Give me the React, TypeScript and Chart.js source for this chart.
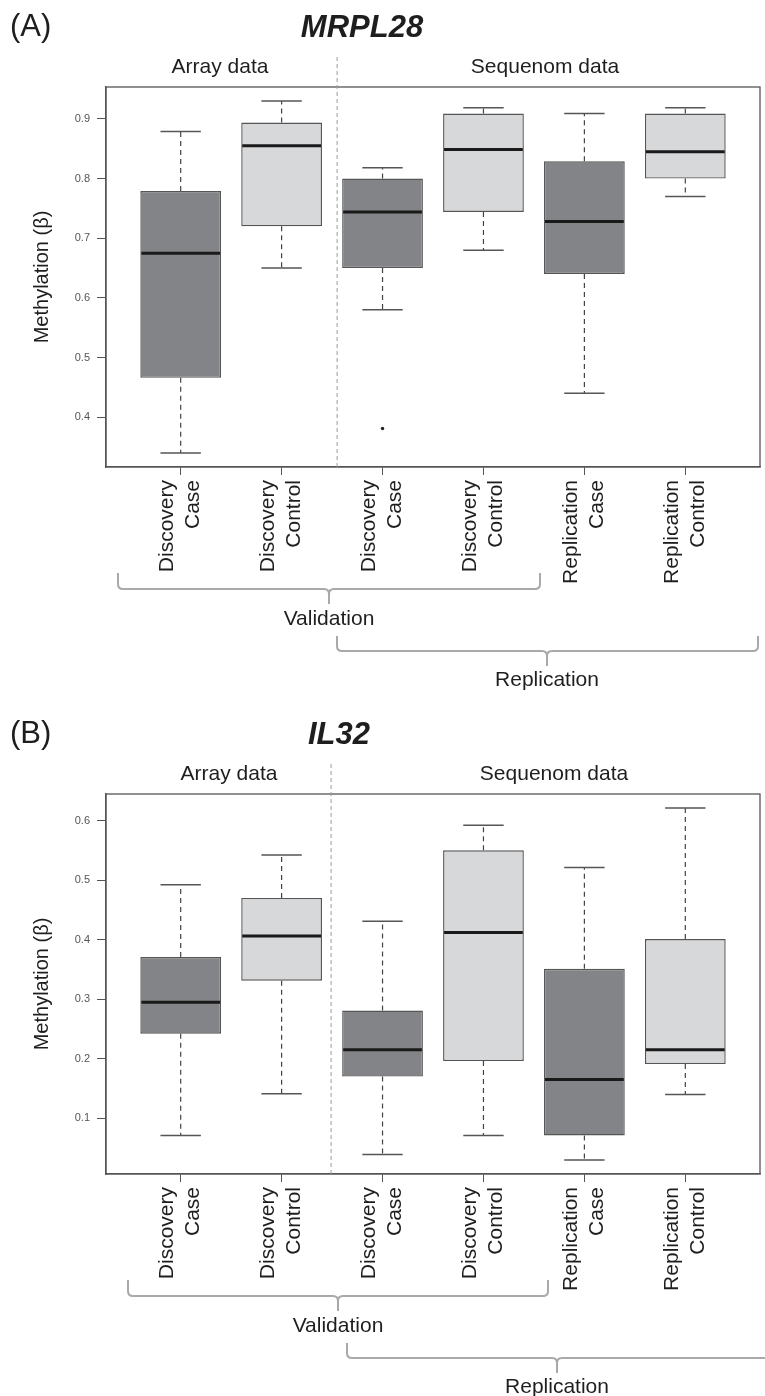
import React, { useEffect, useRef } from "react";
import { Chart, registerables } from "chart.js";

Chart.register(...registerables);

// ---------- data ----------
const categories: string[][] = [
  ["Discovery", "Case"],
  ["Discovery", "Control"],
  ["Discovery", "Case"],
  ["Discovery", "Control"],
  ["Replication", "Case"],
  ["Replication", "Control"],
];
const positions = [1, 2, 3, 4, 5, 6];

// MRPL28 (panel A)
const mrplMin = [0.34, 0.65, 0.58, 0.68, 0.44, 0.77];
const mrplQ1 = [0.466, 0.72, 0.65, 0.744, 0.64, 0.8];
const mrplMed = [0.675, 0.855, 0.744, 0.849, 0.728, 0.845];
const mrplQ3 = [0.779, 0.894, 0.8, 0.909, 0.829, 0.909];
const mrplMax = [0.879, 0.93, 0.818, 0.919, 0.909, 0.919];
const mrplOutlierX = [3];
const mrplOutlierY = [0.381];
const mrplYTicks = [0.4, 0.5, 0.6, 0.7, 0.8, 0.9];

// IL32 (panel B)
const ilMin = [0.071, 0.141, 0.039, 0.071, 0.03, 0.14];
const ilQ1 = [0.242, 0.331, 0.17, 0.196, 0.071, 0.191];
const ilMed = [0.295, 0.406, 0.215, 0.412, 0.165, 0.215];
const ilQ3 = [0.371, 0.47, 0.281, 0.55, 0.351, 0.401];
const ilMax = [0.492, 0.542, 0.431, 0.592, 0.521, 0.621];
const ilOutlierX: number[] = [];
const ilOutlierY: number[] = [];
const ilYTicks = [0.1, 0.2, 0.3, 0.4, 0.5, 0.6];

// ---------- styles ----------
const FONT = '"Liberation Sans", Arial, Helvetica, sans-serif';
const DARK = "#838487";
const LIGHT = "#d7d8da";
const AXIS = "#555555";
const TEXT = "#1e1e1e";
const BRACKET = "#a9a9a9";

interface Stats {
  min: number[];
  q1: number[];
  med: number[];
  q3: number[];
  max: number[];
}

interface PanelCfg {
  tag: string;
  title: string;
  stats: Stats;
  outX: number[];
  outY: number[];
  yTicks: number[];
  divider: number;
  titleX: number;
  arrayX: number;
  seqX: number;
  validation: [number, number, number];
  replication: [number, number, number];
  height: number;
}

const AREA_TOP = 87;
const AREA_BOTTOM = 467;
const AREA_RIGHT = 760;
const Y_AXIS_W = 106;

function drawBracket(ctx: CanvasRenderingContext2D, xL: number, xC: number, xR: number, yTop: number, yLine: number, yNotch: number) {
  const r = 5;
  ctx.beginPath();
  ctx.moveTo(xL, yTop);
  ctx.lineTo(xL, yLine - r);
  ctx.quadraticCurveTo(xL, yLine, xL + r, yLine);
  ctx.lineTo(xC - r, yLine);
  ctx.quadraticCurveTo(xC, yLine, xC, yLine + r);
  ctx.lineTo(xC, yNotch);
  ctx.moveTo(xR, yTop);
  ctx.lineTo(xR, yLine - r);
  ctx.quadraticCurveTo(xR, yLine, xR - r, yLine);
  ctx.lineTo(xC + r, yLine);
  ctx.quadraticCurveTo(xC, yLine, xC, yLine + r);
  ctx.stroke();
}

function makeDeco(cfg: PanelCfg) {
  return {
    id: "boxDeco",
    afterDatasetsDraw(chart: any) {
      const { ctx, scales } = chart;
      const x = scales.x;
      const y = scales.y;
      const s = cfg.stats;
      ctx.save();
      positions.forEach((p, i) => {
        const px = x.getPixelForValue(p);
        const capHalf = x.getPixelForValue(p + 0.2) - px;
        const boxHalf = x.getPixelForValue(p + 0.4) - px;
        // whiskers
        ctx.strokeStyle = "#444";
        ctx.lineWidth = 1.2;
        ctx.setLineDash([5, 4]);
        ctx.beginPath();
        ctx.moveTo(px, y.getPixelForValue(s.q3[i]));
        ctx.lineTo(px, y.getPixelForValue(s.max[i]));
        ctx.moveTo(px, y.getPixelForValue(s.q1[i]));
        ctx.lineTo(px, y.getPixelForValue(s.min[i]));
        ctx.stroke();
        // caps
        ctx.setLineDash([]);
        ctx.strokeStyle = AXIS;
        ctx.lineWidth = 1.5;
        ctx.beginPath();
        const yMax = y.getPixelForValue(s.max[i]);
        const yMin = y.getPixelForValue(s.min[i]);
        ctx.moveTo(px - capHalf, yMax);
        ctx.lineTo(px + capHalf, yMax);
        ctx.moveTo(px - capHalf, yMin);
        ctx.lineTo(px + capHalf, yMin);
        ctx.stroke();
        // median
        ctx.strokeStyle = "#1a1a1a";
        ctx.lineWidth = 3;
        ctx.beginPath();
        const ym = y.getPixelForValue(s.med[i]);
        ctx.moveTo(px - boxHalf + 1, ym);
        ctx.lineTo(px + boxHalf - 1, ym);
        ctx.stroke();
      });
      ctx.restore();
    },
    afterDraw(chart: any) {
      const { ctx, chartArea, scales } = chart;
      const x = scales.x;
      ctx.save();
      // frame
      ctx.strokeStyle = AXIS;
      ctx.lineWidth = 1.3;
      ctx.setLineDash([]);
      ctx.strokeRect(chartArea.left, chartArea.top, chartArea.right - chartArea.left, chartArea.bottom - chartArea.top);
      // divider
      const dx = x.getPixelForValue(cfg.divider);
      ctx.strokeStyle = "#9a9a9a";
      ctx.lineWidth = 1;
      ctx.setLineDash([4, 3]);
      ctx.beginPath();
      ctx.moveTo(dx, 57);
      ctx.lineTo(dx, chartArea.bottom);
      ctx.stroke();
      ctx.setLineDash([]);
      // texts
      ctx.fillStyle = TEXT;
      ctx.textBaseline = "alphabetic";
      ctx.textAlign = "left";
      ctx.font = `31px ${FONT}`;
      ctx.fillText(cfg.tag, 10, 36);
      ctx.textAlign = "center";
      ctx.font = `italic bold 31px ${FONT}`;
      ctx.fillText(cfg.title, cfg.titleX, 37);
      ctx.font = `21px ${FONT}`;
      ctx.fillText("Array data", cfg.arrayX, 73);
      ctx.fillText("Sequenom data", cfg.seqX, 73);
      // brackets
      ctx.strokeStyle = BRACKET;
      ctx.lineWidth = 2;
      const [vL, vC, vR] = cfg.validation;
      drawBracket(ctx, vL, vC, vR, 573, 589, 604);
      const [rL, rC, rR] = cfg.replication;
      drawBracket(ctx, rL, rC, rR, 636, 651, 666);
      ctx.fillStyle = TEXT;
      ctx.font = `21px ${FONT}`;
      ctx.fillText("Validation", vC, 625);
      ctx.fillText("Replication", rC, 686);
      ctx.restore();
    },
  };
}

function Panel({ cfg }: { cfg: PanelCfg }) {
  const ref = useRef<HTMLCanvasElement | null>(null);
  useEffect(() => {
    if (!ref.current) return;
    const s = cfg.stats;
    const allLo = Math.min(...s.min, ...cfg.outY);
    const allHi = Math.max(...s.max, ...cfg.outY);
    const yPad = (allHi - allLo) * 0.04;
    const n = positions.length;
    const xMin = 0.5 - n * 0.04;
    const xMax = n + 0.5 + n * 0.04;
    const H = cfg.height;
    const chart = new Chart(ref.current, {
      type: "bar",
      data: {
        datasets: [
          {
            type: "bar",
            data: positions.map((p, i) => ({ x: p, y: [s.q1[i], s.q3[i]] })) as any,
            backgroundColor: categories.map((c) => (c[1] === "Case" ? DARK : LIGHT)),
            borderColor: AXIS,
            borderWidth: 1.4,
            borderSkipped: false,
            categoryPercentage: 1,
            barPercentage: 0.8,
            order: 2,
          } as any,
          {
            type: "scatter",
            data: cfg.outX.map((v, i) => ({ x: v, y: cfg.outY[i] })),
            pointRadius: 1.7,
            pointBackgroundColor: "#222",
            pointBorderWidth: 0,
            order: 1,
          } as any,
        ],
      },
      options: {
        responsive: false,
        animation: false,
        events: [],
        layout: { padding: { top: AREA_TOP, right: 765 - AREA_RIGHT, left: 0, bottom: 0 } },
        plugins: { legend: { display: false }, tooltip: { enabled: false } },
        scales: {
          x: {
            type: "linear",
            min: xMin,
            max: xMax,
            offset: false,
            afterBuildTicks: (sc: any) => {
              sc.ticks = positions.map((v) => ({ value: v }));
            },
            afterFit: (sc: any) => {
              sc.height = H - AREA_BOTTOM;
            },
            ticks: {
              autoSkip: false,
              minRotation: 90,
              maxRotation: 90,
              labelOffset: -13,
              padding: 5,
              color: TEXT,
              font: { family: FONT, size: 21, lineHeight: "26px" },
              callback: (_v: any, idx: number) => categories[idx],
            },
            grid: { drawOnChartArea: false, tickLength: 8, color: AXIS, offset: false },
            border: { color: AXIS, width: 1.3 },
          },
          y: {
            type: "linear",
            min: allLo - yPad,
            max: allHi + yPad,
            afterBuildTicks: (sc: any) => {
              sc.ticks = cfg.yTicks.map((v) => ({ value: v }));
            },
            afterFit: (sc: any) => {
              sc.width = Y_AXIS_W;
            },
            ticks: {
              padding: 7,
              color: "#555",
              font: { family: FONT, size: 11 },
              callback: (v: any) => Number(v).toFixed(1),
            },
            grid: { drawOnChartArea: false, tickLength: 9, color: AXIS },
            border: { color: AXIS, width: 1.3 },
            title: {
              display: true,
              text: "Methylation (β)",
              color: TEXT,
              font: { family: FONT, size: 20 },
              padding: { top: 30, bottom: 0 },
            },
          },
        },
      } as any,
      plugins: [makeDeco(cfg)],
    });
    return () => chart.destroy();
  }, [cfg]);
  return (
    <div style={{ width: 765, height: cfg.height }}>
      <canvas ref={ref} width={765} height={cfg.height} style={{ display: "block" }} />
    </div>
  );
}

const panelA: PanelCfg = {
  tag: "(A)",
  title: "MRPL28",
  stats: { min: mrplMin, q1: mrplQ1, med: mrplMed, q3: mrplQ3, max: mrplMax },
  outX: mrplOutlierX,
  outY: mrplOutlierY,
  yTicks: mrplYTicks,
  divider: 2.55,
  titleX: 362,
  arrayX: 220,
  seqX: 545,
  validation: [118, 329, 540],
  replication: [337, 547, 758],
  height: 707,
};

const panelB: PanelCfg = {
  tag: "(B)",
  title: "IL32",
  stats: { min: ilMin, q1: ilQ1, med: ilMed, q3: ilQ3, max: ilMax },
  outX: ilOutlierX,
  outY: ilOutlierY,
  yTicks: ilYTicks,
  divider: 2.49,
  titleX: 339,
  arrayX: 229,
  seqX: 554,
  validation: [128, 338, 548],
  replication: [347, 557, 768],
  height: 689,
};

export default function App() {
  useEffect(() => {
    document.body.style.margin = "0";
  }, []);
  return (
    <div style={{ width: 765, height: 1396, background: "#fff" }}>
      <Panel cfg={panelA} />
      <Panel cfg={panelB} />
    </div>
  );
}
